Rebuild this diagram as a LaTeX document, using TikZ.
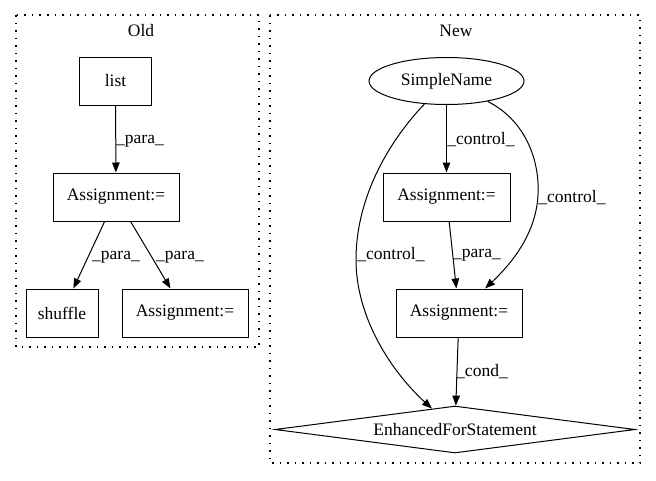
\documentclass[tikz,border=0pt]{standalone}
\usepackage{fontspec}
\setmainfont{Liberation Serif}
\usetikzlibrary{arrows.meta,shapes.geometric}
\begin{document}
\begin{tikzpicture}[x=1pt,y=-1pt,
  every node/.style={font=\fontsize{17.5}{21}\selectfont},
  box/.style={draw,line width=1pt,minimum height=48pt,inner sep=0pt},
  ell/.style={draw,ellipse,line width=1pt,minimum width=155pt,minimum height=47pt,inner sep=0pt},
  dia/.style={draw,diamond,line width=1pt,shape aspect=7.66,minimum width=360pt,minimum height=47pt,inner sep=0pt},
  conn/.style={draw,line width=1pt,-{Triangle[length=10pt,width=7.5pt]}},
  lbl/.style={inner sep=0pt},
  cluster/.style={draw,line width=1.2pt,dash pattern=on 1.5pt off 6pt}]
\useasboundingbox (0,0) rectangle (656,480);
% clusters
\draw[cluster] (16,15) rectangle (259,347);
\draw[cluster] (270,15) rectangle (640,463);
\node[lbl] (tOld) at (141,31) {Old};
\node[lbl] (tNew) at (456,31) {New};
% Old nodes
\node[box,minimum width=72pt] (list) at (115.5,81) {list};
\node[box,minimum width=126pt] (a1) at (116,197) {Assignment:=};
\node[box,minimum width=72pt] (shuf) at (62,313) {shuffle};
\node[box,minimum width=126pt] (a1b) at (185,313) {Assignment:=};
% New nodes
\node[ell] (sn) at (446.5,81) {SimpleName};
\node[box,minimum width=127pt] (a2) at (446.5,197) {Assignment:=};
\node[box,minimum width=126pt] (a3) at (459,313) {Assignment:=};
\node[dia] (fs) at (455,429.5) {EnhancedForStatement};
% Old edges
\draw[conn] (list) -- (a1);
\draw[conn] (a1) -- (shuf);
\draw[conn] (a1) -- (a1b);
\node[lbl] (l1) at (140,141) {\_para\_};
\node[lbl] (l2) at (116,257) {\_para\_};
\node[lbl] (l3) at (180,257) {\_para\_};
% New edges
\draw[conn] (sn) -- (a2);
\draw[conn] (a2) -- (a3);
\draw[conn] (a3) -- (fs);
\draw[conn] (sn) .. controls (525,120) and (540,160) .. (538,195)
                 .. controls (536,235) and (510,265) .. (a3);
\draw[conn] (sn) .. controls (390,140) and (357,195) .. (356,257)
                 .. controls (355,320) and (395,375) .. (fs);
\node[lbl] (l4) at (481,140) {\_control\_};
\node[lbl] (l5) at (572,198) {\_control\_};
\node[lbl] (l6) at (391,255) {\_control\_};
\node[lbl] (l7) at (477,255) {\_para\_};
\node[lbl] (l8) at (482,372) {\_cond\_};
\end{tikzpicture}
\end{document}
